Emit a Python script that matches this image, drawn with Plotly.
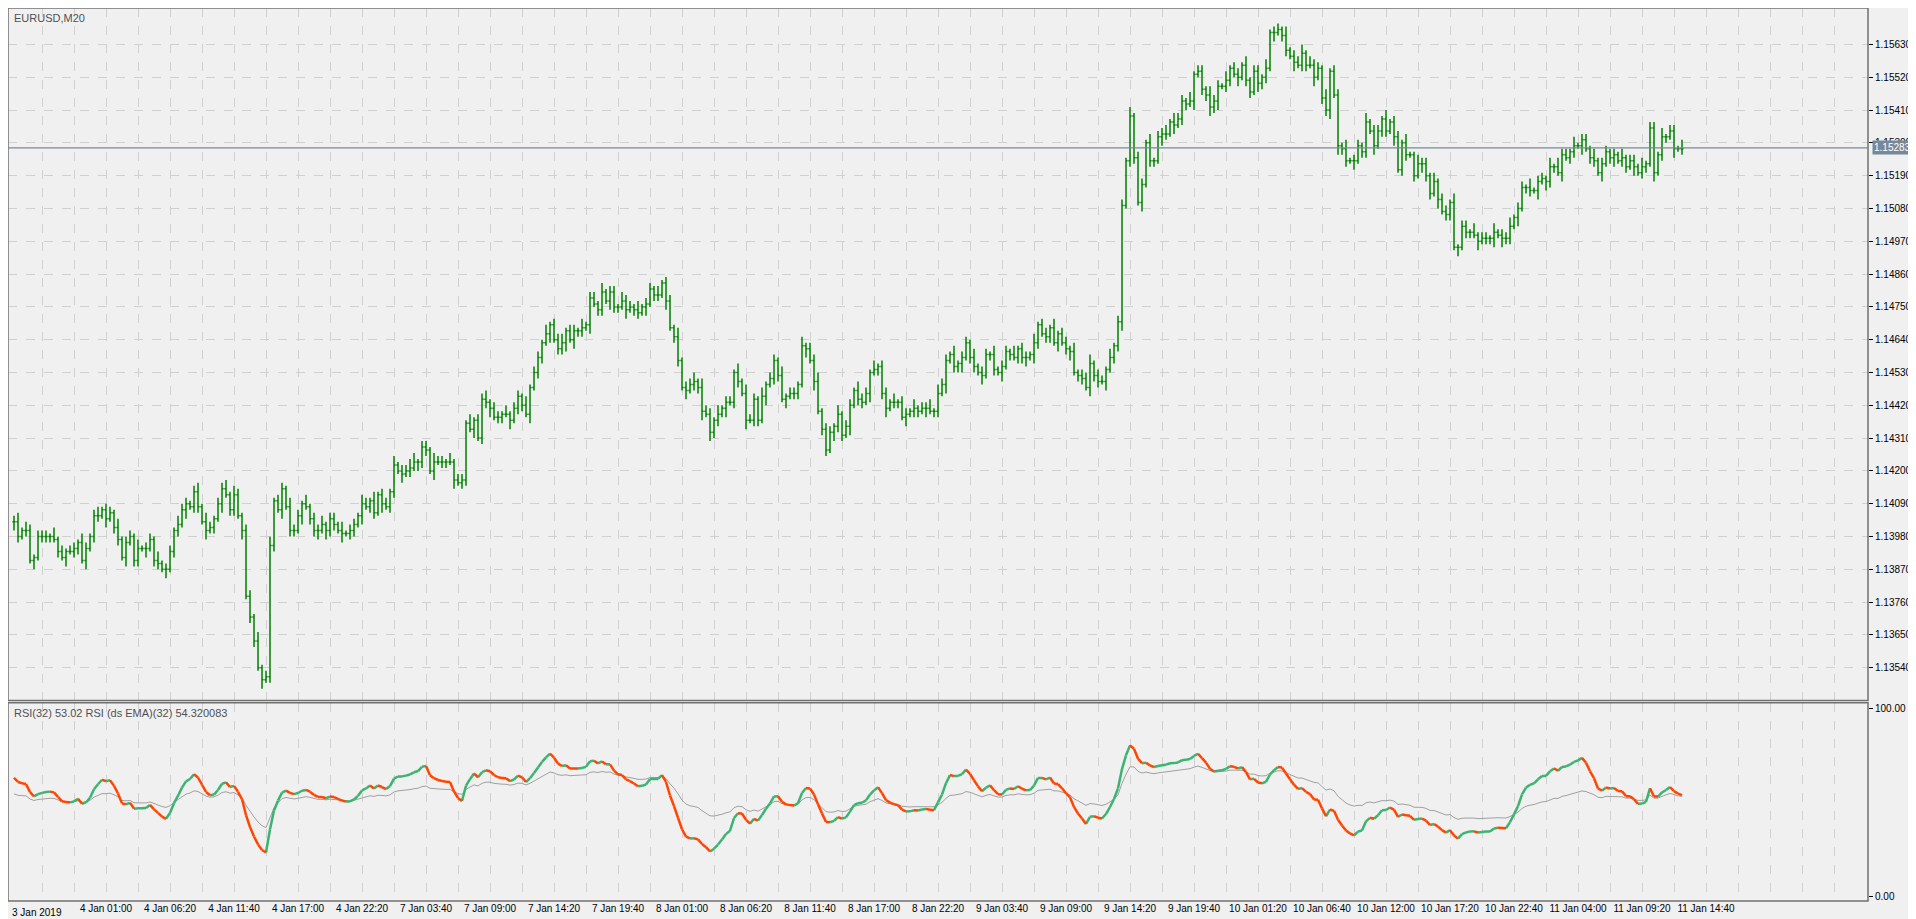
import numpy as np
import plotly.graph_objects as go

# EURUSD M20 closes, in pips above 1.1000
close_pips = [
    403, 398, 400, 400, 390, 391, 398, 398, 398, 398, 397, 393, 391, 393, 393, 394, 396, 390, 394, 398,
    405, 405, 407, 404, 406, 401, 397, 391, 396, 398, 390, 394, 394, 394, 397, 390, 389, 387, 387, 393,
    400, 402, 407, 409, 408, 413, 408, 403, 400, 401, 404, 409, 414, 412, 407, 412, 405, 400, 378, 371,
    363, 354, 350, 351, 395, 410, 407, 414, 408, 400, 400, 405, 409, 408, 404, 400, 400, 402, 400, 404,
    402, 400, 399, 399, 400, 402, 405, 409, 408, 410, 406, 412, 409, 408, 413, 422, 420, 419, 420, 421,
    423, 423, 428, 427, 420, 423, 423, 423, 423, 423, 417, 416, 417, 436, 434, 437, 431, 444, 443, 441,
    438, 438, 439, 439, 437, 441, 445, 442, 439, 448, 453, 458, 463, 466, 469, 464, 461, 463, 467, 464,
    467, 467, 468, 469, 478, 476, 474, 480, 477, 480, 475, 475, 477, 474, 475, 474, 473, 475, 476, 481,
    479, 479, 483, 477, 468, 465, 457, 448, 447, 449, 450, 448, 440, 439, 433, 437, 439, 441, 443, 443,
    453, 450, 446, 437, 437, 444, 437, 445, 449, 451, 457, 452, 444, 445, 446, 446, 449, 462, 461, 457,
    450, 440, 434, 427, 433, 435, 439, 432, 435, 442, 447, 444, 443, 446, 453, 454, 455, 446, 441, 443,
    443, 443, 438, 439, 440, 441, 440, 441, 441, 440, 440, 446, 449, 457, 459, 455, 456, 458, 463, 458,
    455, 453, 452, 459, 459, 454, 453, 455, 460, 459, 458, 461, 458, 458, 459, 463, 469, 466, 465, 468,
    463, 466, 463, 461, 460, 453, 452, 451, 448, 456, 452, 450, 450, 454, 458, 462, 470, 509, 524, 539,
    525, 510, 516, 530, 524, 524, 532, 533, 533, 537, 536, 538, 544, 543, 544, 553, 554, 548, 546, 542,
    544, 549, 549, 551, 555, 553, 552, 556, 551, 547, 554, 550, 552, 555, 567, 567, 568, 566, 561, 559,
    557, 556, 560, 556, 556, 552, 555, 545, 541, 554, 546, 529, 528, 524, 524, 524, 529, 527, 537, 534,
    529, 534, 538, 534, 537, 532, 521, 530, 526, 526, 519, 523, 523, 519, 513, 517, 511, 507, 506, 510,
    495, 495, 502, 500, 500, 499, 497, 498, 498, 498, 500, 499, 498, 498, 502, 505, 508, 515, 515, 514,
    514, 517, 518, 517, 522, 522, 520, 526, 525, 527, 529, 529, 531, 528, 525, 524, 520, 523, 527, 525,
    526, 524, 525, 522, 524, 522, 520, 522, 523, 535, 520, 526, 532, 532, 534, 528, 528, 528,
]

# wick beyond max(open, close) / below min(open, close), pips per bar
hi_wick = (
    "23132122213121221321231221312213122131221322123132"
    "12231321221312312213221312231221312213213122131223"
    "31221322131221312231221312213122131223122131221312"
    "21322131221312213122313221312213132213122131221312"
    "23122131221322131221312213122313221312213122131221"
    "31221312213122131223122131221312213122313221312213"
    "22131221312213122131223132213122131221312213122131"
    "13221312213122131221312231221312213132213122131221"
    "21312213122131221312213122313221312213122131221312"
)
lo_wick = (
    "32121312221213122131221312213122131221312213122131"
    "21312213122131221312213122313221312213122131221312"
    "13221312213122131223122131221312213122313221312213"
    "22131221312213122131223132213122131221312213122131"
    "31221322131221312231221312213122131223122131221312"
    "12231321221312312213221312231221312213213122131223"
    "23122131221322131221312213122313221312213122131221"
    "21322131221312213122313221312213132213122131221312"
    "31221312213122131221312231221312213132213122131221"
)

first_label = "3 Jan 2019"
tick_bars = [23 + 16 * k for k in range(26)]
tick_labels = [
    "4 Jan 01:00", "4 Jan 06:20", "4 Jan 11:40", "4 Jan 17:00", "4 Jan 22:20",
    "7 Jan 03:40", "7 Jan 09:00", "7 Jan 14:20", "7 Jan 19:40",
    "8 Jan 01:00", "8 Jan 06:20", "8 Jan 11:40", "8 Jan 17:00", "8 Jan 22:20",
    "9 Jan 03:40", "9 Jan 09:00", "9 Jan 14:20", "9 Jan 19:40",
    "10 Jan 01:20", "10 Jan 06:40", "10 Jan 12:00", "10 Jan 17:20", "10 Jan 22:40",
    "11 Jan 04:00", "11 Jan 09:20", "11 Jan 14:40",
]
price_ticks = [1.1354 + 0.0011 * k for k in range(20)]
last_price = 1.15283
rsi_caption = "RSI(32) 53.02 RSI (ds EMA)(32) 54.320083"

n = len(close_pips)
x = np.arange(n)
closes = 1.1 + np.array(close_pips) / 10000
opens = np.r_[closes[0], closes[:-1]]
hw = np.array([int(c) for c in hi_wick[:n]]) / 10000
lw = np.array([int(c) for c in lo_wick[:n]]) / 10000
highs = np.maximum(opens, closes) + hw
lows = np.minimum(opens, closes) - lw


def rsi(c, period, gain0, loss0):
    d = np.diff(c, prepend=c[0])
    g = np.clip(d, 0, None)
    l = np.clip(-d, 0, None)
    ag, al = gain0, loss0
    out = []
    for gi, li in zip(g, l):
        ag += (gi - ag) / period
        al += (li - al) / period
        out.append(100 * ag / (ag + al))
    return np.array(out)


def ema(v, period):
    a = 2 / (period + 1)
    out, cur = [], v[0]
    for vi in v:
        cur += a * (vi - cur)
        out.append(cur)
    return np.array(out)


rsi_fast = ema(rsi(closes, 12, 0.00034, 0.0002), 4)
rsi_slow = ema(rsi(closes, 32, 0.00024, 0.0002), 4)

up_x, up_y, dn_x, dn_y = [], [], [], []
for i in range(1, n):
    if rsi_fast[i] >= rsi_fast[i - 1]:
        up_x += [i - 1, i, None]
        up_y += [rsi_fast[i - 1], rsi_fast[i], None]
    else:
        dn_x += [i - 1, i, None]
        dn_y += [rsi_fast[i - 1], rsi_fast[i], None]

fig = go.Figure()
fig.add_trace(go.Ohlc(x=x, open=opens, high=highs, low=lows, close=closes,
                      increasing=dict(line=dict(color="#008000", width=1.5)),
                      decreasing=dict(line=dict(color="#008000", width=1.5)),
                      tickwidth=0.4, hoverinfo="skip", xaxis="x", yaxis="y"))
fig.add_trace(go.Scatter(x=x, y=rsi_slow, mode="lines", line=dict(color="#A0A0A0", width=1),
                         xaxis="x2", yaxis="y2"))
fig.add_trace(go.Scatter(x=up_x, y=up_y, mode="lines", line=dict(color="#3CB371", width=2.5),
                         xaxis="x2", yaxis="y2"))
fig.add_trace(go.Scatter(x=dn_x, y=dn_y, mode="lines", line=dict(color="#FF4500", width=2.5),
                         xaxis="x2", yaxis="y2"))

grid = dict(showgrid=True, gridcolor="#D0D0D0", griddash="dash", gridwidth=1, zeroline=False)
xr = [-1.5, -1.5 + 1860 / 4]
grid_bars = [7 + 8 * k for k in range(57)]
fig.update_layout(
    width=1916, height=919, showlegend=False,
    paper_bgcolor="#F0F0F0", plot_bgcolor="#F0F0F0",
    margin=dict(l=0, r=56, t=0, b=26),
    font=dict(family="Liberation Sans, Arial", size=10, color="#000000"),
    xaxis=dict(range=xr, domain=[0, 1], anchor="y", rangeslider=dict(visible=False),
               tickvals=grid_bars, showticklabels=False, ticks="", **grid),
    yaxis=dict(range=[1.1343, 1.15752], domain=[0.2244, 1], side="right", anchor="x",
               tickvals=price_ticks, ticktext=[f"{p:.5f}" for p in price_ticks],
               ticks="outside", ticklen=4, tickcolor="#000000", **grid),
    xaxis2=dict(range=xr, domain=[0, 1], anchor="y2", matches="x",
                tickvals=tick_bars + grid_bars, ticktext=tick_labels + [""] * len(grid_bars),
                ticks="", tickangle=0, **grid),
    yaxis2=dict(range=[-2.4, 102.9], domain=[0, 0.222], side="right", anchor="x2",
                tickvals=[0, 100], ticktext=["0.00", "100.00"], ticks="outside", ticklen=4,
                tickcolor="#000000", showgrid=False, zeroline=False),
)
fig.add_shape(type="rect", xref="paper", yref="paper", x0=0, x1=1, y0=0.2244, y1=1,
              line=dict(color="#707070", width=1.5))
fig.add_shape(type="rect", xref="paper", yref="paper", x0=0, x1=1, y0=0, y1=0.222,
              line=dict(color="#707070", width=1.5))
fig.add_shape(type="line", xref="paper", yref="y", x0=0, x1=1, y0=last_price, y1=last_price,
              line=dict(color="#778899", width=1.2))
fig.add_annotation(xref="paper", yref="y", x=1.002, y=last_price, text=f"{last_price:.5f}",
                   showarrow=False, xanchor="left", bgcolor="#778899",
                   font=dict(color="#FFFFFF", size=10), borderpad=1)
fig.add_annotation(xref="paper", yref="paper", x=0.001, y=-0.004, text=first_label,
                   showarrow=False, xanchor="left", yanchor="top",
                   font=dict(color="#000000", size=10))
fig.add_annotation(xref="paper", yref="paper", x=0.002, y=0.998, text="EURUSD,M20",
                   showarrow=False, xanchor="left", yanchor="top",
                   font=dict(color="#505050", size=11))
fig.add_annotation(xref="paper", yref="paper", x=0.002, y=0.219, text=rsi_caption,
                   showarrow=False, xanchor="left", yanchor="top",
                   font=dict(color="#505050", size=11))

fig.write_html("out.html")
